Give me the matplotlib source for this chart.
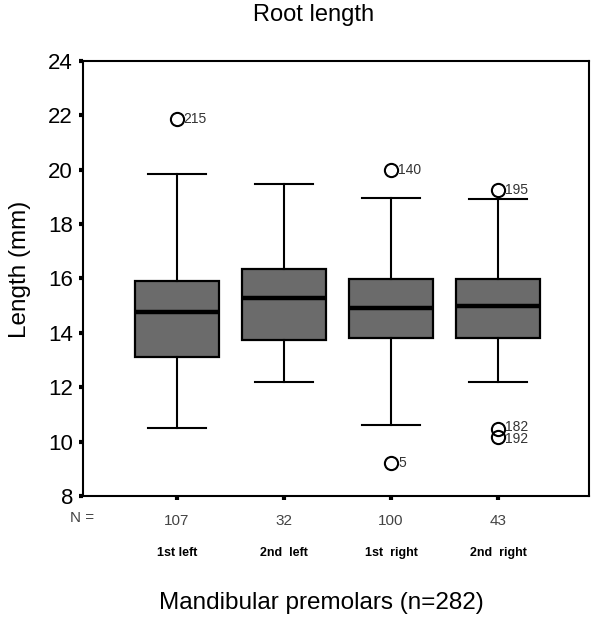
import matplotlib
matplotlib.use("Agg")
import matplotlib.pyplot as plt
import matplotlib.transforms as mtransforms
import numpy as np

plt.rcParams["font.family"] = ["Liberation Sans", "DejaVu Sans"]

# Box summary values (mm)
groups = ["1st left", "2nd  left", "1st  right", "2nd  right"]
counts = [107, 32, 100, 43]
whisker_low = [10.5, 12.2, 10.6, 12.2]
q1 = [13.1, 13.75, 13.8, 13.8]
median = [14.78, 15.28, 14.9, 15.0]
q3 = [15.92, 16.35, 15.98, 15.98]
whisker_high = [19.83, 19.47, 18.97, 18.9]

# Outliers: (group index, value, case label)
outlier_group = [0, 2, 2, 3, 3, 3]
outlier_value = [21.85, 20.0, 9.2, 19.25, 10.45, 10.18]
outlier_case = ["215", "140", "5", "195", "182", "192"]
# small vertical nudge (points) so the two stacked labels stay readable
outlier_nudge = [0, 0, 0, 0, 2, -2]


def build_stats():
    stats = []
    for i in range(len(groups)):
        fl = [v for g, v in zip(outlier_group, outlier_value) if g == i]
        stats.append({
            "med": median[i], "q1": q1[i], "q3": q3[i],
            "whislo": whisker_low[i], "whishi": whisker_high[i],
            "fliers": np.array(fl), "label": groups[i],
        })
    return stats


fig = plt.figure(figsize=(6.0, 6.2), dpi=100)
ax = fig.add_axes([0.138, 0.2, 0.844, 0.702])

positions = np.arange(1, len(groups) + 1)
ax.bxp(
    build_stats(), positions=positions, widths=0.78, patch_artist=True,
    boxprops=dict(facecolor="#6b6b6b", edgecolor="black", linewidth=1.6),
    medianprops=dict(color="black", linewidth=3.2),
    whiskerprops=dict(color="black", linewidth=1.5),
    capprops=dict(color="black", linewidth=1.5),
    capwidths=0.54,
    flierprops=dict(marker="o", markersize=9.5, markerfacecolor="none",
                    markeredgecolor="black", markeredgewidth=1.5),
)

for g, v, lab, dy in zip(outlier_group, outlier_value, outlier_case, outlier_nudge):
    ax.annotate(lab, (positions[g], v), xytext=(5, dy), textcoords="offset points",
                ha="left", va="center", fontsize=10, color="#333333")

ax.set_xlim(0.123, 4.85)
ax.set_ylim(8, 24)
ax.set_yticks(np.arange(8, 25, 2))
ax.tick_params(axis="y", direction="out", length=3, width=3, labelsize=16, pad=4)
ax.set_xticks(positions)
ax.set_xticklabels([str(c) for c in counts], fontsize=11, color="#444444")
ax.tick_params(axis="x", direction="out", length=3, width=3, pad=10)
for s in ax.spines.values():
    s.set_linewidth(1.5)

trans = mtransforms.blended_transform_factory(ax.transData, fig.transFigure)
ax.text(0.12, 1 - 518 / 620, "N =", transform=trans, ha="center", va="center",
        fontsize=11, color="#444444")
for p, name in zip(positions, groups):
    ax.text(p, 1 - 553 / 620, name, transform=trans, ha="center", va="center",
            fontsize=9, fontweight="bold")

fig.text(0.523, 0.975, "Root length", ha="center", va="center", fontsize=17)
fig.text(0.535, 0.027, "Mandibular premolars (n=282)", ha="center", va="center",
         fontsize=17.5)
fig.text(0.033, 0.566, "Length (mm)", ha="center", va="center", rotation=90,
         fontsize=17.5)

fig.savefig("out.png", dpi=100)
